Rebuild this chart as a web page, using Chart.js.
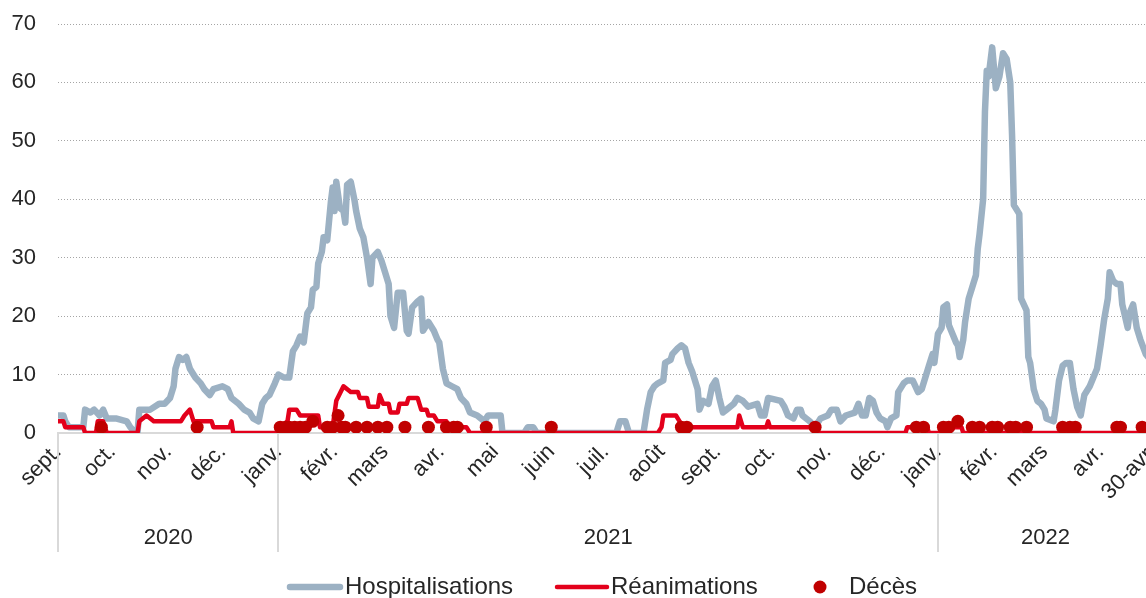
<!DOCTYPE html>
<html><head><meta charset="utf-8">
<script src="https://cdn.jsdelivr.net/npm/chart.js@4"></script>
<style>
html,body{margin:0;padding:0;overflow:hidden;background:#fff;width:1146px;height:598px}
#wrap{position:relative;width:1200px;height:598px}
</style></head><body>
<div id="wrap"><canvas id="c" width="1200" height="598"></canvas></div>
<script>
// Day index: 0 = 1 sept. 2020 ... 606 = 30 avr. 2022
const monthTickDays = [0,30,61,91,122,153,181,212,242,273,303,334,365,395,426,456,487,518,546,577,606];
const monthLabels = ["sept.","oct.","nov.","déc.","janv.","févr.","mars","avr.","mai","juin","juil.","août","sept.","oct.","nov.","déc.","janv.","févr.","mars","avr.","30-avr."];
const yearLabels = ["2020","2021","2022"];
const yearStart = [0,122,487];
const yearEnd = [122,487,606];

const hospDay = [
  0,3,4,6,14,15,18,20,23,25,27,32,38,40,43,44,45,51,56,59,62,64,65,67,69,71,73,76,79,81,84,86,91,94,96,100,103,106,108,111,113,115,117,120,
  122,125,128,130,132,134,136,138,140,141,143,144,146,147,149,151,152,153,154,156,158,159,160,162,164,165,167,169,171,173,174,177,179,181,183,184,186,188,191,193,194,196,199,201,202,205,208,210,211,213,215,218,221,223,226,228,232,234,236,238,245,246,258,260,263,265,
  309,311,314,316,324,326,328,330,332,335,336,339,340,343,345,347,349,351,354,355,357,360,362,364,366,368,370,374,376,379,382,387,389,391,393,400,402,404,407,409,411,412,416,419,422,426,428,431,433,436,441,443,445,447,449,451,453,455,458,459,461,464,465,468,470,473,476,478,480,482,484,485,
  487,489,490,492,493,495,497,498,499,501,502,504,506,508,509,510,512,513,514,515,517,519,521,523,525,527,528,529,532,533,536,537,538,540,542,544,546,547,551,552,554,556,558,560,562,564,566,568,571,573,575,577,579,581,582,584,586,588,589,592,593,595,597,599,602,606
];
const hospValue = [
  3,3,2,1,1,4,3.5,4,3,4,2.5,2.5,2,1,0,0,4,4,5,5,6,8,11,13,12.5,13,11,9.5,8.5,7.5,6.5,7.5,8,7.5,6,5,4,3.5,2.5,2,5,6,6.5,8.5,
  10,9.5,9.5,14,15,16.5,15.5,20.5,21.5,24.5,25,29,31,33.5,33,39.5,42,38,43,38.5,38,36,42.5,43,40,38,35,33.5,30,25.5,30,31,29.5,27.5,25.5,20,18,24,24,17.5,17,21.5,22.5,23,17.5,19,17.5,16,15.5,11,8.5,8,7.5,6,5,3.5,3,2.5,2,3,3,0,0,1,1,0,
  0,2,2,0,0,4,7,8,8.5,9,12,12.5,13.5,14.5,15,14.5,12,10.5,7.5,4,5.5,5,8,9,6,3.5,4,5,6,5.5,4.5,5,3,3,6,5.5,4.5,3,2.5,4,4,3,2,1,2.5,3,4,4,2,3,3.5,5,3,3,6,5.5,3.5,2.5,2,1,2.5,3,7,8.5,9,9,7,7.5,9.5,11.5,13.5,12,
  17,18,21.5,22,18.5,17,15.5,15,13,16,19,23,25,27,31.5,34,40,55,62,61,66,59,61,65,64,60,51,39,37.5,23,21,13,12,7.5,5.5,5,4,2.5,2,4,9,11.5,12,12,7.5,4.5,3,6.5,8,9.5,11,15,19.5,23,27.5,26,25.5,25.5,22,18,20.5,22,18,16,13.5,12
];

const reaDay = [0,3,4,14,15,21,22,25,27,44,45,49,53,68,70,73,75,76,85,86,95,96,97,121,123,127,128,132,134,144,145,152,154,158,162,166,167,171,172,177,178,180,183,184,188,189,193,194,199,201,204,205,208,210,215,216,226,228,332,334,335,342,344,346,376,377,379,392,393,394,418,420,469,470,481,482,489,490,500,501,606];
const reaValue = [2,2,1,1,0,0,2,2,0,0,2,3,2,2,3,4,2,2,2,1,1,2,0,0,1,2,4,4,3,3,1,1,5.5,8,7,7,6,6,4.5,4.5,6.5,5,5,3.5,3.5,5,5,6,6,4,4,3,3,2,2,1,1,0,0,1,3,3,2,1,1,3,1,1,2,1,1,0,0,1,1,0,0,1,1,0,0];

const decesDay = [24,77,123,126,128,131,134,137,141,149,152,155,157,159,165,171,177,182,192,205,215,219,221,237,273,345,348,419,475,479,490,493,498,506,510,517,520,527,530,536,556,560,563,586,588,600];
const decesValue = [1,1,1,1,1,1,1,1,2,1,1,3,1,1,1,1,1,1,1,1,1,1,1,1,1,1,1,1,1,1,1,1,2,1,1,1,1,1,1,1,1,1,1,1,1,1];

const FONT = '"Liberation Sans", Arial, Helvetica, sans-serif';
const TXT = '#262626';
const GREY = '#9cb1c3';
const RED = '#e3001b';
const DARKRED = '#c00000';

const pts = (xs, ys) => xs.map((d, i) => ({x: d, y: ys[i]}));

const extras = {
  id: 'extras',
  afterDraw(chart) {
    const {ctx, chartArea} = chart;
    const x = chart.scales.x;
    ctx.save();
    ctx.strokeStyle = '#d9d9d9';
    ctx.lineWidth = 2;
    yearStart.forEach(d => {
      const px = Math.round(x.getPixelForValue(d));
      ctx.beginPath();
      ctx.moveTo(px, chartArea.bottom);
      ctx.lineTo(px, chartArea.bottom + 119);
      ctx.stroke();
    });
    ctx.fillStyle = TXT;
    ctx.font = '22px ' + FONT;
    ctx.textAlign = 'center';
    ctx.textBaseline = 'middle';
    yearLabels.forEach((t, i) => {
      const a = x.getPixelForValue(yearStart[i]);
      const b = x.getPixelForValue(yearEnd[i]);
      ctx.fillText(t, (a + b) / 2, chartArea.bottom + 105);
    });
    const ly = 587;
    ctx.lineCap = 'round';
    ctx.strokeStyle = GREY; ctx.lineWidth = 6.5;
    ctx.beginPath(); ctx.moveTo(290, ly); ctx.lineTo(340, ly); ctx.stroke();
    ctx.strokeStyle = RED; ctx.lineWidth = 4.5;
    ctx.beginPath(); ctx.moveTo(557, ly); ctx.lineTo(607, ly); ctx.stroke();
    ctx.fillStyle = DARKRED;
    ctx.beginPath(); ctx.arc(820, ly, 6.5, 0, Math.PI * 2); ctx.fill();
    ctx.fillStyle = TXT;
    ctx.font = '24px ' + FONT;
    ctx.textAlign = 'left';
    const names = chart.data.datasets.map(d => d.label);
    ctx.fillText(names[2], 345, ly);
    ctx.fillText(names[1], 611, ly);
    ctx.fillText(names[0], 849, ly);
    ctx.restore();
  }
};

new Chart(document.getElementById('c'), {
  type: 'line',
  data: {
    datasets: [
      {label: 'Décès', data: pts(decesDay, decesValue), showLine: false,
       pointRadius: 6.5, pointHoverRadius: 6.5, pointBorderWidth: 0,
       pointBackgroundColor: DARKRED, borderColor: DARKRED, backgroundColor: DARKRED, order: 0},
      {label: 'Réanimations', data: pts(reaDay, reaValue), borderColor: RED, borderWidth: 4.5,
       pointRadius: 0, tension: 0, borderJoinStyle: 'round', borderCapStyle: 'round', order: 1},
      {label: 'Hospitalisations', data: pts(hospDay, hospValue), borderColor: GREY, borderWidth: 6.5,
       pointRadius: 0, tension: 0, borderJoinStyle: 'round', borderCapStyle: 'round', order: 2}
    ]
  },
  options: {
    responsive: false,
    animation: false,
    devicePixelRatio: 1,
    layout: {padding: {top: 24, right: 47, left: 0, bottom: 0}},
    plugins: {legend: {display: false}, tooltip: {enabled: false}},
    scales: {
      x: {
        type: 'linear', min: 0, max: 606,
        afterBuildTicks: s => { s.ticks = monthTickDays.map(v => ({value: v})); },
        ticks: {autoSkip: false, minRotation: 45, maxRotation: 45, padding: 6, color: TXT,
                font: {family: FONT, size: 22}, callback: (v, i) => monthLabels[i]},
        grid: {display: false, drawTicks: false},
        border: {display: true, color: '#d9d9d9', width: 2},
        afterFit: s => { s.height = 165; }
      },
      y: {
        min: 0, max: 70,
        ticks: {stepSize: 10, padding: 22, color: TXT, font: {family: FONT, size: 22}},
        grid: {color: '#a5a5a5', lineWidth: 1, drawTicks: false},
        border: {display: false, dash: [1, 2]},
        afterFit: s => { s.width = 58; s.paddingTop = 0; s.paddingBottom = 0; }
      }
    }
  },
  plugins: [extras]
});
</script>
</body></html>
